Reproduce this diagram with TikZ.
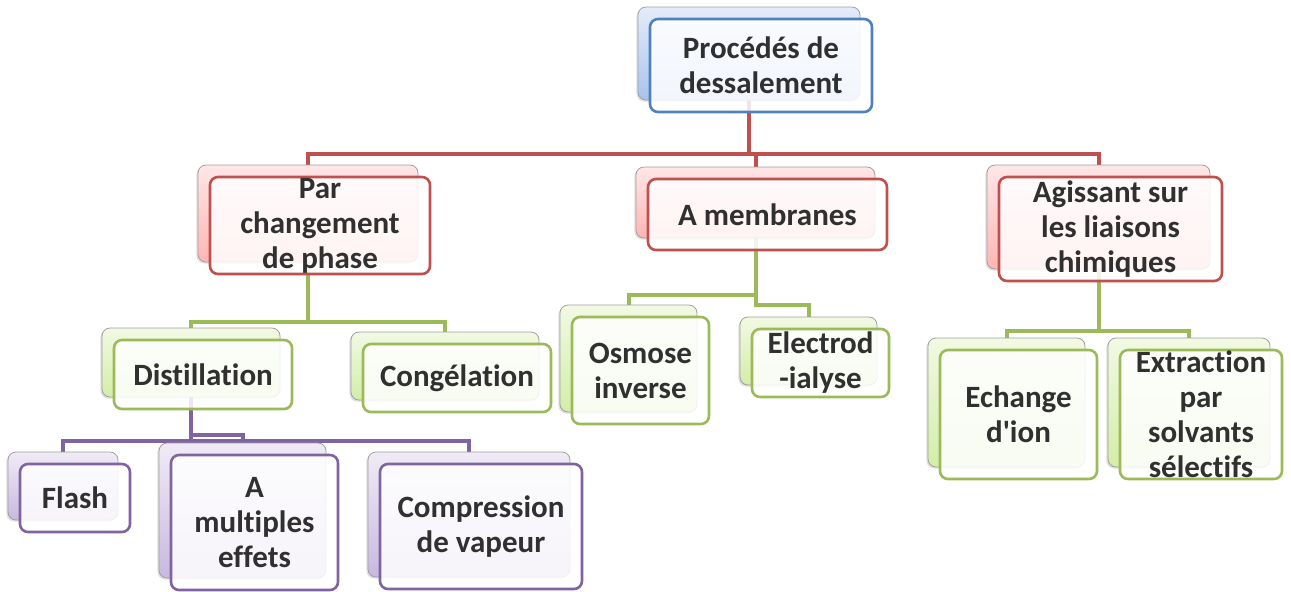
\documentclass[tikz,border=0pt]{standalone}
\usepackage{fontspec}
\newfontfamily\carlito{Carlito}[Ligatures=NoCommon]
\usetikzlibrary{shadows}
\pgfdeclarelayer{fond}
\pgfsetlayers{fond,main}
\definecolor{texte}{HTML}{303030}
\definecolor{bleu}{HTML}{4F81BD}
\definecolor{bleuclair}{HTML}{E3ECFA}
\definecolor{bleufonce}{HTML}{A9C3EF}
\definecolor{rouge}{HTML}{C0504D}
\definecolor{rougeclair}{HTML}{FFE6E6}
\definecolor{rougefonce}{HTML}{FFB5B5}
\definecolor{vert}{HTML}{9BBB59}
\definecolor{vertclair}{HTML}{F2F9E4}
\definecolor{vertfonce}{HTML}{D3EDA8}
\definecolor{violet}{HTML}{8064A2}
\definecolor{violetclair}{HTML}{F0EBF6}
\definecolor{violetfonce}{HTML}{C9B8E0}
\begin{document}
\begin{tikzpicture}[x=0.5pt,y=-0.5pt,
  dos/.style={draw=gray!75, line width=0.4pt, rounded corners=4pt,
    top color=#1clair, bottom color=#1fonce,
    drop shadow={shadow xshift=-0.8pt, shadow yshift=-0.8pt, opacity=0.25}},
  face/.style={draw=#1, line width=1.3pt, rounded corners=4pt,
    fill=white, fill opacity=0.85, text opacity=1, text=texte,
    font=\carlito\fontsize{15.5}{17.5}\selectfont\bfseries, align=center, inner sep=0pt},
  lien/.style={draw=#1, line width=2pt}]
\useasboundingbox (0,0) rectangle (1291,591);
\newcommand\boite[7]{
\node[dos=#2, minimum width=#5*0.5pt, minimum height=#6*0.5pt] (#1-b) at ({#3+#5/2},{#4+#6/2}) {};
\node[face=#2, minimum width=#5*0.5pt, minimum height=#6*0.5pt] (#1) at ({#3+#5/2+12},{#4+#6/2+12}) {#7};
}
% niveau 0
\boite{racine}{bleu}{638}{7}{222}{93}{Procédés de\\dessalement}
% niveau 1
\boite{chgt}{rouge}{198}{165}{220}{97}{Par\\changement\\de phase}
\boite{memb}{rouge}{636}{167}{239}{71}{A membranes}
\boite{chim}{rouge}{987}{165}{223}{104}{Agissant sur\\les liaisons\\chimiques}
% niveau 2
\boite{dist}{vert}{102}{328}{178}{69}{Distillation}
\boite{cong}{vert}{351}{332}{188}{68}{Congélation}
\boite{osmo}{vert}{560}{305}{137}{107}{Osmose\\inverse}
\boite{elec}{vert}{740}{317}{137}{68}{Electrod\\-ialyse}
\boite{echg}{vert}{928}{338}{157}{129}{Echange\\d'ion}
\boite{extr}{vert}{1108}{338}{162}{129}{Extraction\\par\\solvants\\sélectifs}
% niveau 3
\boite{flash}{violet}{8}{452}{110}{68}{Flash}
\boite{multi}{violet}{159}{443}{167}{135}{A\\multiples\\effets}
\boite{comp}{violet}{368}{452}{202}{125}{Compression\\de vapeur}
\begin{pgfonlayer}{fond}
\draw[lien=rouge] (racine-b.south) -- ++(0,54) -| (chgt-b.north);
\draw[lien=rouge] (racine-b.south) -- ++(0,54) -| (memb-b.north);
\draw[lien=rouge] (racine-b.south) -- ++(0,54) -| (chim-b.north);
\draw[lien=vert] (chgt-b.south) -- ++(0,60) -| (dist-b.north);
\draw[lien=vert] (chgt-b.south) -- ++(0,60) -| (cong-b.north);
\draw[lien=vert] (memb-b.south) -- ++(0,57) -| (osmo-b.north);
\draw[lien=vert] (memb-b.south) -- ++(0,67) -| (elec-b.north);
\draw[lien=vert] (chim-b.south) -- ++(0,62) -| (echg-b.north);
\draw[lien=vert] (chim-b.south) -- ++(0,62) -| (extr-b.north);
\draw[lien=violet] (dist-b.south) -- ++(0,44) -| (flash-b.north);
\draw[lien=violet] (dist-b.south) -- ++(0,38) -| (multi-b.north);
\draw[lien=violet] (dist-b.south) -- ++(0,44) -| (comp-b.north);
\end{pgfonlayer}
\end{tikzpicture}
\end{document}
